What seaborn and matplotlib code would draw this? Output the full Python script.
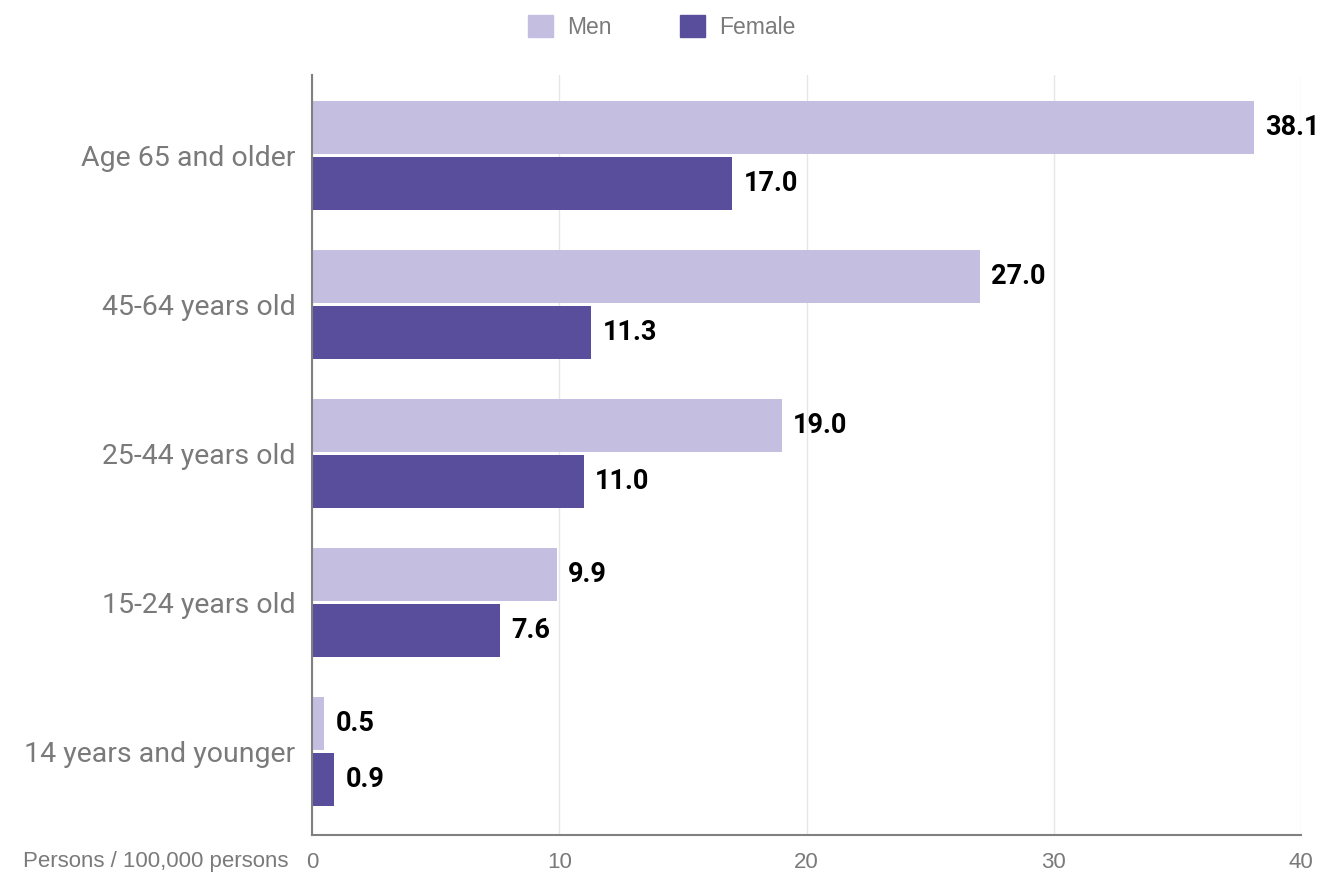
import numpy as np
import matplotlib.pyplot as plt
import seaborn as sns
import pandas as pd

# data
groups = ["Age 65 and older", "45-64 years old", "25-44 years old", "15-24 years old", "14 years and younger"]
men = [38.1, 27.0, 19.0, 9.9, 0.5]
female = [17.0, 11.3, 11.0, 7.6, 0.9]
series = ["Men", "Female"]
colors = ["#c4bee0", "#594e9c"]

df = pd.DataFrame({
    "group": groups * 2,
    "sex": ["Men"] * len(groups) + ["Female"] * len(groups),
    "rate": men + female,
})

sns.set_style("white")
plt.rcParams["font.family"] = ["Liberation Sans", "DejaVu Sans"]
narrow = ["Roboto", "DejaVu Sans"]

fig = plt.figure(figsize=(13.23, 8.77), dpi=100)
ax = fig.add_axes([0.2358, 0.0479, 0.7476, 0.8666])

sns.barplot(data=df, y="group", x="rate", hue="sex", order=groups, hue_order=series,
            palette=colors, width=0.745, gap=0.044, orient="h", ax=ax, legend=False,
            saturation=1, linewidth=0)

for cont in ax.containers:
    ax.bar_label(cont, fmt="%.1f", padding=8, fontsize=19.5, fontweight="bold",
                 color="black", family=narrow)

ax.set_xlim(0, 40)
ax.set_ylim(4.56, -0.54)
ax.set_xticks([0, 10, 20, 30, 40])
ax.xaxis.grid(True, color="#e6e6e6", linewidth=1)
ax.set_axisbelow(True)
ax.tick_params(axis="x", length=0, labelsize=16, labelcolor="#7a7a7a", pad=12)
ax.tick_params(axis="y", length=0, labelsize=20.5, labelcolor="#7a7a7a", pad=12)
for lab in ax.get_yticklabels():
    lab.set_family(narrow)
ax.set_xlabel("")
ax.set_ylabel("")
for s in ["top", "right"]:
    ax.spines[s].set_visible(False)
for s in ["left", "bottom"]:
    ax.spines[s].set_color("#808080")
    ax.spines[s].set_linewidth(1.5)

fig.text(0.218, 0.006, "Persons / 100,000 persons", ha="right", va="bottom",
         fontsize=16, color="#7a7a7a")

handles = [plt.Rectangle((0, 0), 1, 1, color=c) for c in colors]
fig.legend(handles, series, loc="upper center", bbox_to_anchor=(0.5, 1.006), ncol=2,
           frameon=False, fontsize=16.5, labelcolor="#7a7a7a", handlelength=1.1,
           handleheight=1.1, columnspacing=3.0, handletextpad=0.6)

plt.savefig("out.png", dpi=100)
